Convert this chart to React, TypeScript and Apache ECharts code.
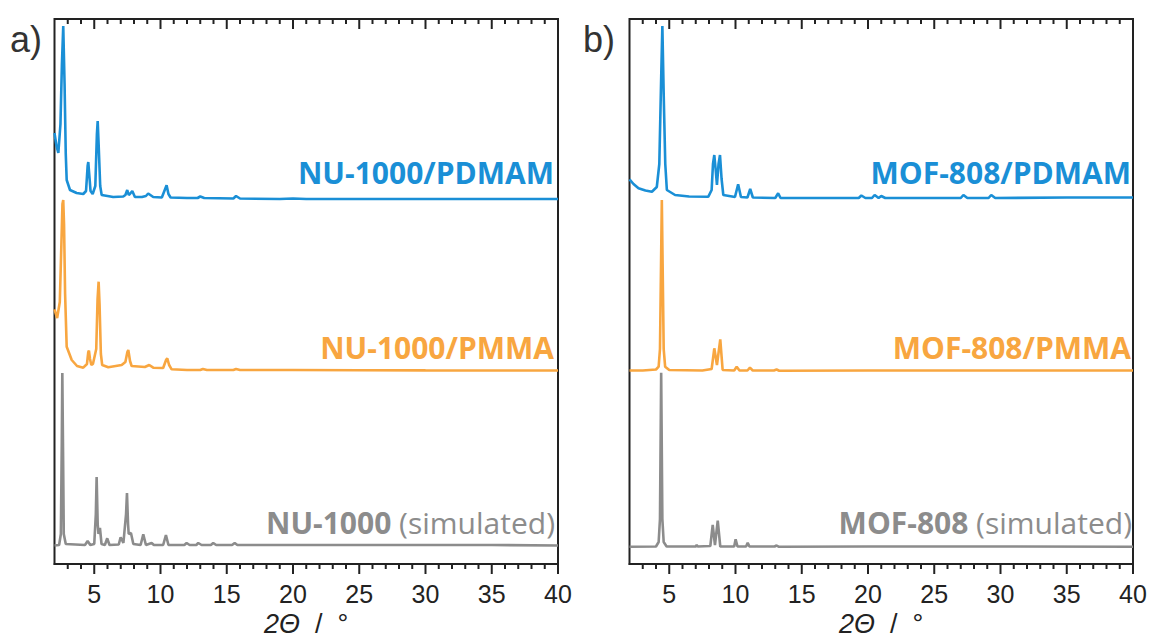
import React, { useEffect, useRef } from "react";
import * as echarts from "echarts";

// 2θ range and tick labels
const xMin = 2;
const xMax = 40;
const majorTicks = [5, 10, 15, 20, 25, 30, 35, 40];
const allTicks = [3, 4, 5, 6, 7, 8, 9, 10, 11, 12, 13, 14, 15, 16, 17, 18, 19, 20, 21, 22, 23, 24, 25, 26, 27, 28, 29, 30, 31, 32, 33, 34, 35, 36, 37, 38, 39, 40];

// Intensities (stacked, arbitrary units): [2θ, intensity]
const nuPdmam: [number, number][] = [
  [2, 431], [2.15, 418], [2.29, 411], [2.45, 440], [2.56, 500], [2.66, 538], [2.76, 480], [2.85, 410],
  [2.92, 384], [3.17, 374], [3.67, 371], [4.17, 370], [4.38, 373], [4.5, 398], [4.55, 402], [4.62, 390],
  [4.72, 373], [4.88, 370], [5.08, 378], [5.2, 430], [5.26, 443], [5.33, 420], [5.45, 378], [5.56, 369],
  [6.0, 368], [6.43, 367], [7.19, 367.5], [7.35, 369], [7.49, 374], [7.6, 369], [7.69, 370], [7.87, 373],
  [8.07, 367], [8.6, 367], [8.9, 368], [9.07, 370.5], [9.45, 367], [10.1, 366.5], [10.35, 375], [10.46, 378.7],
  [10.6, 370], [10.76, 366.5], [12, 366], [12.8, 366], [13, 367.5], [13.3, 366], [15.5, 365.5], [15.7, 368],
  [16, 365.5], [19, 365], [20, 365.5], [21, 365], [25, 365], [30, 365], [35, 365], [40, 365],
];

const nuPmma: [number, number][] = [
  [2, 254.7], [2.2, 246], [2.4, 262], [2.52, 320], [2.6, 360], [2.66, 364], [2.72, 340], [2.8, 270],
  [2.92, 217.3], [3.3, 204], [3.7, 198], [4.17, 196.3], [4.45, 200], [4.55, 212], [4.6, 213.3], [4.68, 205],
  [4.78, 199], [4.9, 200], [5.15, 215], [5.25, 265], [5.33, 282.3], [5.4, 260], [5.5, 210], [5.6, 199],
  [6.06, 196.7], [7.07, 199], [7.35, 202], [7.5, 212], [7.57, 214], [7.7, 203], [7.82, 198], [8.82, 197],
  [9.15, 199], [9.45, 196.3], [10.2, 196], [10.42, 204], [10.51, 205.7], [10.65, 199], [10.84, 194.7],
  [12, 194], [13.0, 194], [13.2, 195], [13.5, 194], [15.5, 194], [15.7, 195], [16, 194], [20, 194],
  [25, 193.8], [30, 193.6], [35, 193.5], [40, 193.5],
];

const nuSim: [number, number][] = [
  [2, 18.5], [2.35, 19], [2.48, 30], [2.55, 120], [2.59, 191], [2.64, 120], [2.7, 30], [2.85, 20],
  [4.3, 19], [4.5, 23], [4.7, 19], [5.0, 20], [5.12, 50], [5.18, 87], [5.26, 40], [5.32, 30], [5.43, 36],
  [5.55, 20], [5.8, 19], [5.98, 25.7], [6.15, 19], [6.85, 19.5], [6.99, 26.7], [7.2, 21], [7.4, 50],
  [7.47, 71], [7.55, 40], [7.6, 30], [7.77, 31], [7.95, 20], [8.5, 19], [8.7, 29.7], [8.9, 19], [9.33, 21],
  [9.5, 19], [10.2, 19], [10.41, 29], [10.6, 19], [11.8, 19], [11.97, 21], [12.2, 19], [12.7, 19],
  [12.85, 21], [13.1, 19], [13.8, 19], [13.98, 21], [14.2, 19], [15.4, 19], [15.6, 21], [15.8, 19],
  [20, 19], [25, 19], [30, 19], [35, 19], [40, 18.5],
];

const mofPdmam: [number, number][] = [
  [2, 384.7], [2.3, 380], [2.68, 375.7], [3.2, 373.5], [3.69, 372.3], [4.06, 377], [4.25, 400],
  [4.38, 480], [4.48, 538], [4.58, 470], [4.7, 400], [4.82, 374], [5.44, 369], [6.5, 367.5],
  [7.95, 367.3], [8.2, 374], [8.3, 400], [8.4, 409], [8.5, 395], [8.6, 379], [8.72, 400], [8.83, 409],
  [8.95, 385], [9.08, 369], [9.96, 367], [10.2, 379.7], [10.41, 367], [10.9, 366.5], [11.11, 375],
  [11.31, 366.5], [13.0, 366], [13.22, 370.7], [13.4, 366], [16, 366], [19.3, 366], [19.5, 368.5],
  [19.8, 366], [20.3, 366], [20.5, 369], [20.8, 366], [21.0, 368], [21.3, 366], [27.0, 366], [27.2, 369],
  [27.5, 366], [29.1, 366], [29.3, 369], [29.6, 366], [35, 366.5], [40, 366.5],
];

const mofPmma: [number, number][] = [
  [2, 193.5], [3, 193.5], [4.0, 194.5], [4.2, 197.3], [4.3, 215], [4.38, 300], [4.44, 364], [4.5, 300],
  [4.58, 215], [4.69, 197.3], [5.0, 194], [7.5, 193.5], [8.2, 195], [8.4, 215.7], [8.6, 199],
  [8.85, 224.7], [9.03, 194], [9.9, 193.5], [10.09, 197.3], [10.3, 193.5], [10.9, 193.5], [11.09, 196.3],
  [11.3, 193.5], [12.9, 193.5], [13.1, 194.5], [13.3, 193.3], [20, 193.5], [30, 193.5], [40, 193.5],
];

const mofSim: [number, number][] = [
  [2, 17.3], [4.0, 17.5], [4.2, 22], [4.3, 45], [4.39, 191.3], [4.48, 45], [4.58, 22], [4.8, 17.5],
  [7.0, 17.5], [7.07, 19], [7.15, 17.5], [8.1, 18], [8.28, 39], [8.45, 19], [8.66, 43.3], [8.85, 17.5],
  [9.9, 17.5], [10.01, 24.7], [10.15, 17.5], [10.8, 17.5], [10.92, 21.3], [11.05, 17.5], [12.95, 17.5],
  [13.1, 18.5], [13.25, 17.3], [20, 17.5], [30, 17.5], [40, 17.3],
];

const blue = "#1a8fd6";
const orange = "#f8a640";
const gray = "#8c8c8c";
const axisColor = "#222";
const yMax = 545;

function xAxis(gridIndex: number) {
  return {
    gridIndex,
    type: "value" as const,
    min: xMin,
    max: xMax,
    interval: 1,
    position: "bottom",
    splitLine: { show: false },
    axisLine: { show: true, lineStyle: { color: axisColor, width: 2 } },
    axisTick: { show: false },
    axisLabel: {
      show: true,
      customValues: majorTicks,
      fontSize: 25,
      margin: 17,
      color: axisColor,
      fontFamily: "Liberation Sans",
    },
    name: "{i|2Θ}  /  °",
    nameLocation: "middle",
    nameGap: 46,
    nameTextStyle: {
      fontSize: 27,
      color: axisColor,
      fontFamily: "Liberation Sans",
      rich: { i: { fontSize: 27, fontStyle: "italic", color: axisColor, fontFamily: "Liberation Sans" } },
    },
  };
}

function yAxis(gridIndex: number) {
  return { gridIndex, type: "value" as const, min: 0, max: yMax, show: false };
}

function line(name: string, data: [number, number][], color: string, idx: number) {
  return {
    name,
    type: "line" as const,
    data,
    xAxisIndex: idx,
    yAxisIndex: idx,
    showSymbol: false,
    symbol: "none",
    lineStyle: { color, width: 2.6 },
    itemStyle: { color },
    z: 3,
  };
}

const labelFont = "Open Sans";

function seriesLabel(x: number, y: number, text: string, color: string) {
  return {
    type: "text",
    x,
    y,
    style: {
      text,
      fill: color,
      fontSize: 30,
      fontWeight: "bold",
      fontFamily: labelFont,
      align: "right",
      verticalAlign: "middle",
    },
  };
}

function simLabel(x: number, y: number, bold: string, color: string) {
  return {
    type: "text",
    x,
    y,
    style: {
      text: `{b|${bold}}{n| (simulated)}`,
      fill: color,
      align: "right",
      verticalAlign: "middle",
      rich: {
        b: { fontSize: 30, fontWeight: "bold", fontFamily: labelFont, fill: color },
        n: { fontSize: 30, fontWeight: "normal", fontFamily: labelFont, fill: color },
      },
    },
  };
}

function toPx(chart: any, idx: number, v: number, y: number): number[] | null {
  let p: any = null;
  try {
    p = chart.convertToPixel({ gridIndex: idx }, [v, y]);
  } catch (e) {
    p = null;
  }
  if (!p || !isFinite(p[0]) || !isFinite(p[1])) {
    try {
      p = chart.convertToPixel({ xAxisIndex: idx, yAxisIndex: idx }, [v, y]);
    } catch (e) {
      p = null;
    }
  }
  if (!p || !isFinite(p[0]) || !isFinite(p[1])) return null;
  return p;
}

export default function App() {
  const ref = useRef<HTMLDivElement>(null);
  useEffect(() => {
    if (!ref.current) return;
    const chart = echarts.init(ref.current, undefined, { renderer: "svg" });
    const baseGraphics: any[] = [
      {
        type: "text",
        x: 10,
        y: 39,
        style: { text: "a)", fontSize: 36, fill: "#333", fontFamily: "Liberation Sans", verticalAlign: "middle" },
      },
      {
        type: "text",
        x: 583,
        y: 39,
        style: { text: "b)", fontSize: 36, fill: "#333", fontFamily: "Liberation Sans", verticalAlign: "middle" },
      },
      seriesLabel(554, 172, "NU-1000/PDMAM", blue),
      seriesLabel(554, 347, "NU-1000/PMMA", orange),
      simLabel(555, 522, "NU-1000", gray),
      seriesLabel(1131, 172, "MOF-808/PDMAM", blue),
      seriesLabel(1131, 347, "MOF-808/PMMA", orange),
      simLabel(1132, 522, "MOF-808", gray),
    ];
    chart.setOption({
      animation: false,
      backgroundColor: "#ffffff",
      grid: [
        {
          left: 54.5, right: 593, top: 19, bottom: 76, show: true, borderColor: axisColor, borderWidth: 2,
          containLabel: false, outerBoundsMode: "none",
        },
        {
          left: 629.5, right: 18, top: 19, bottom: 76, show: true, borderColor: axisColor, borderWidth: 2,
          containLabel: false, outerBoundsMode: "none",
        },
      ],
      xAxis: [xAxis(0), xAxis(1)],
      yAxis: [yAxis(0), yAxis(1)],
      series: [
        line("NU-1000", nuSim, gray, 0),
        line("NU-1000/PMMA", nuPmma, orange, 0),
        line("NU-1000/PDMAM", nuPdmam, blue, 0),
        line("MOF-808", mofSim, gray, 1),
        line("MOF-808/PMMA", mofPmma, orange, 1),
        line("MOF-808/PDMAM", mofPdmam, blue, 1),
      ],
      graphic: baseGraphics,
    });

    // tick marks placed through the axes' own scales (bottom: outward, top: inward)
    const tickGraphics: any[] = [];
    [0, 1].forEach((idx) => {
      allTicks.forEach((v) => {
        const len = majorTicks.includes(v) ? 10 : 5;
        const b = toPx(chart, idx, v, 0);
        const t = toPx(chart, idx, v, yMax);
        if (!b || !t) return;
        tickGraphics.push({
          type: "rect",
          z: 100,
          silent: true,
          shape: { x: b[0] - 1, y: b[1], width: 2, height: len },
          style: { fill: axisColor },
        });
        tickGraphics.push({
          type: "rect",
          z: 100,
          silent: true,
          shape: { x: t[0] - 1, y: t[1], width: 2, height: len },
          style: { fill: axisColor },
        });
      });
    });
    chart.setOption({ graphic: [...baseGraphics, ...tickGraphics] });

    return () => chart.dispose();
  }, []);
  return (
    <div
      ref={ref}
      style={{ position: "fixed", left: 0, top: 0, width: 1151, height: 640, background: "#fff" }}
    />
  );
}
